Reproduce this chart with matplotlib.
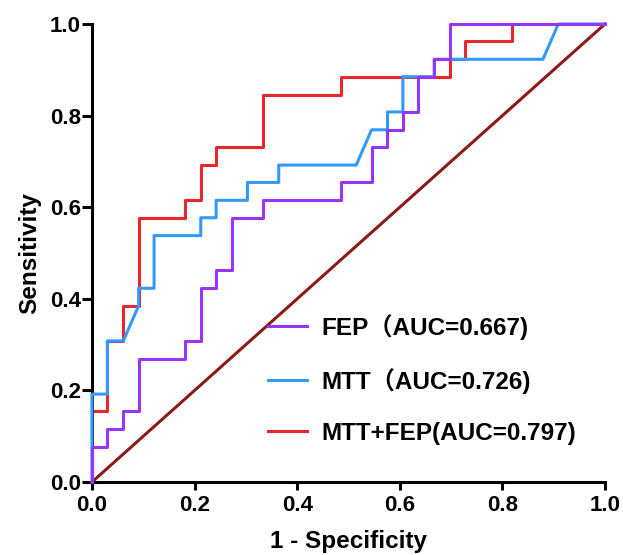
import matplotlib
matplotlib.use("Agg")
from matplotlib import pyplot as plt

plt.rcParams["font.family"] = ["Liberation Sans", "Noto Sans CJK SC", "DejaVu Sans"]
plt.rcParams["font.weight"] = "bold"

# ROC points (1 - specificity, sensitivity)
fep_x = [0, 0, 0.030, 0.030, 0.061, 0.061, 0.091, 0.091, 0.182, 0.182, 0.212, 0.212,
         0.242, 0.242, 0.273, 0.273, 0.333, 0.333, 0.485, 0.485, 0.545, 0.545,
         0.576, 0.576, 0.606, 0.606, 0.636, 0.636, 0.667, 0.667, 0.697, 0.697, 1.0]
fep_y = [0, 0.077, 0.077, 0.115, 0.115, 0.154, 0.154, 0.269, 0.269, 0.308, 0.308, 0.423,
         0.423, 0.462, 0.462, 0.577, 0.577, 0.615, 0.615, 0.654, 0.654, 0.731,
         0.731, 0.769, 0.769, 0.808, 0.808, 0.885, 0.885, 0.923, 0.923, 1.0, 1.0]

mtt_x = [0, 0, 0.030, 0.030, 0.061, 0.091, 0.091, 0.121, 0.121, 0.212, 0.212, 0.242,
         0.242, 0.303, 0.303, 0.364, 0.364, 0.515, 0.545, 0.576, 0.576, 0.606,
         0.606, 0.667, 0.667, 0.879, 0.909, 1.0]
mtt_y = [0, 0.192, 0.192, 0.308, 0.308, 0.385, 0.423, 0.423, 0.538, 0.538, 0.577, 0.577,
         0.615, 0.615, 0.654, 0.654, 0.692, 0.692, 0.769, 0.769, 0.808, 0.808,
         0.885, 0.885, 0.923, 0.923, 1.0, 1.0]

comb_x = [0, 0, 0.030, 0.030, 0.061, 0.061, 0.091, 0.091, 0.182, 0.182, 0.212, 0.212,
          0.242, 0.242, 0.333, 0.333, 0.485, 0.485, 0.697, 0.697, 0.727, 0.727,
          0.818, 0.818, 1.0]
comb_y = [0, 0.154, 0.154, 0.308, 0.308, 0.385, 0.385, 0.577, 0.577, 0.615, 0.615, 0.692,
          0.692, 0.731, 0.731, 0.846, 0.846, 0.885, 0.885, 0.923, 0.923, 0.962,
          0.962, 1.0, 1.0]

labels = ["FEP\uff08AUC=0.667)", "MTT\uff08AUC=0.726)", "MTT+FEP(AUC=0.797)"]
colors = ["#9933FF", "#3399FF", "#E8262B"]

fig = plt.figure(figsize=(6.23, 5.55), dpi=100)
ax = fig.add_axes([92 / 623, 73 / 555, 513 / 623, 458 / 555])

ax.plot([0, 1], [0, 1], color="#8B1A1A", lw=2.2, zorder=1, clip_on=False)
l3, = ax.plot(comb_x, comb_y, color=colors[2], lw=2.2, zorder=2, clip_on=False)
l2, = ax.plot(mtt_x, mtt_y, color=colors[1], lw=2.2, zorder=3, clip_on=False)
l1, = ax.plot(fep_x, fep_y, color=colors[0], lw=2.2, zorder=4, clip_on=False)

ax.set_xlim(0, 1)
ax.set_ylim(0, 1)
ax.spines["top"].set_visible(False)
ax.spines["right"].set_visible(False)
ax.spines["left"].set_linewidth(2.2)
ax.spines["bottom"].set_linewidth(2.2)
ticks = [0, 0.2, 0.4, 0.6, 0.8, 1.0]
ax.set_xticks(ticks)
ax.set_yticks(ticks)
ax.set_xticklabels(["{:.1f}".format(t) for t in ticks], fontsize=16, fontweight="bold")
ax.set_yticklabels(["{:.1f}".format(t) for t in ticks], fontsize=16, fontweight="bold")
ax.tick_params(axis="x", length=5.5, width=2.2, pad=4)
ax.tick_params(axis="y", length=7, width=2.2, pad=1)
ax.set_xlabel("1 - Specificity", fontsize=17.5, fontweight="bold", labelpad=10)
ax.set_ylabel("Sensitivity", fontsize=17.5, fontweight="bold", labelpad=6)

ax.legend([l1, l2, l3], labels, loc="upper left", frameon=False,
          bbox_to_anchor=(268 / 623, 1 - 314 / 555), bbox_transform=fig.transFigure,
          prop={"size": 17.5, "weight": "bold"}, handlelength=1.6, handletextpad=0.6,
          labelspacing=1.15, borderpad=0, borderaxespad=0)

fig.savefig("out.png", dpi=100)
